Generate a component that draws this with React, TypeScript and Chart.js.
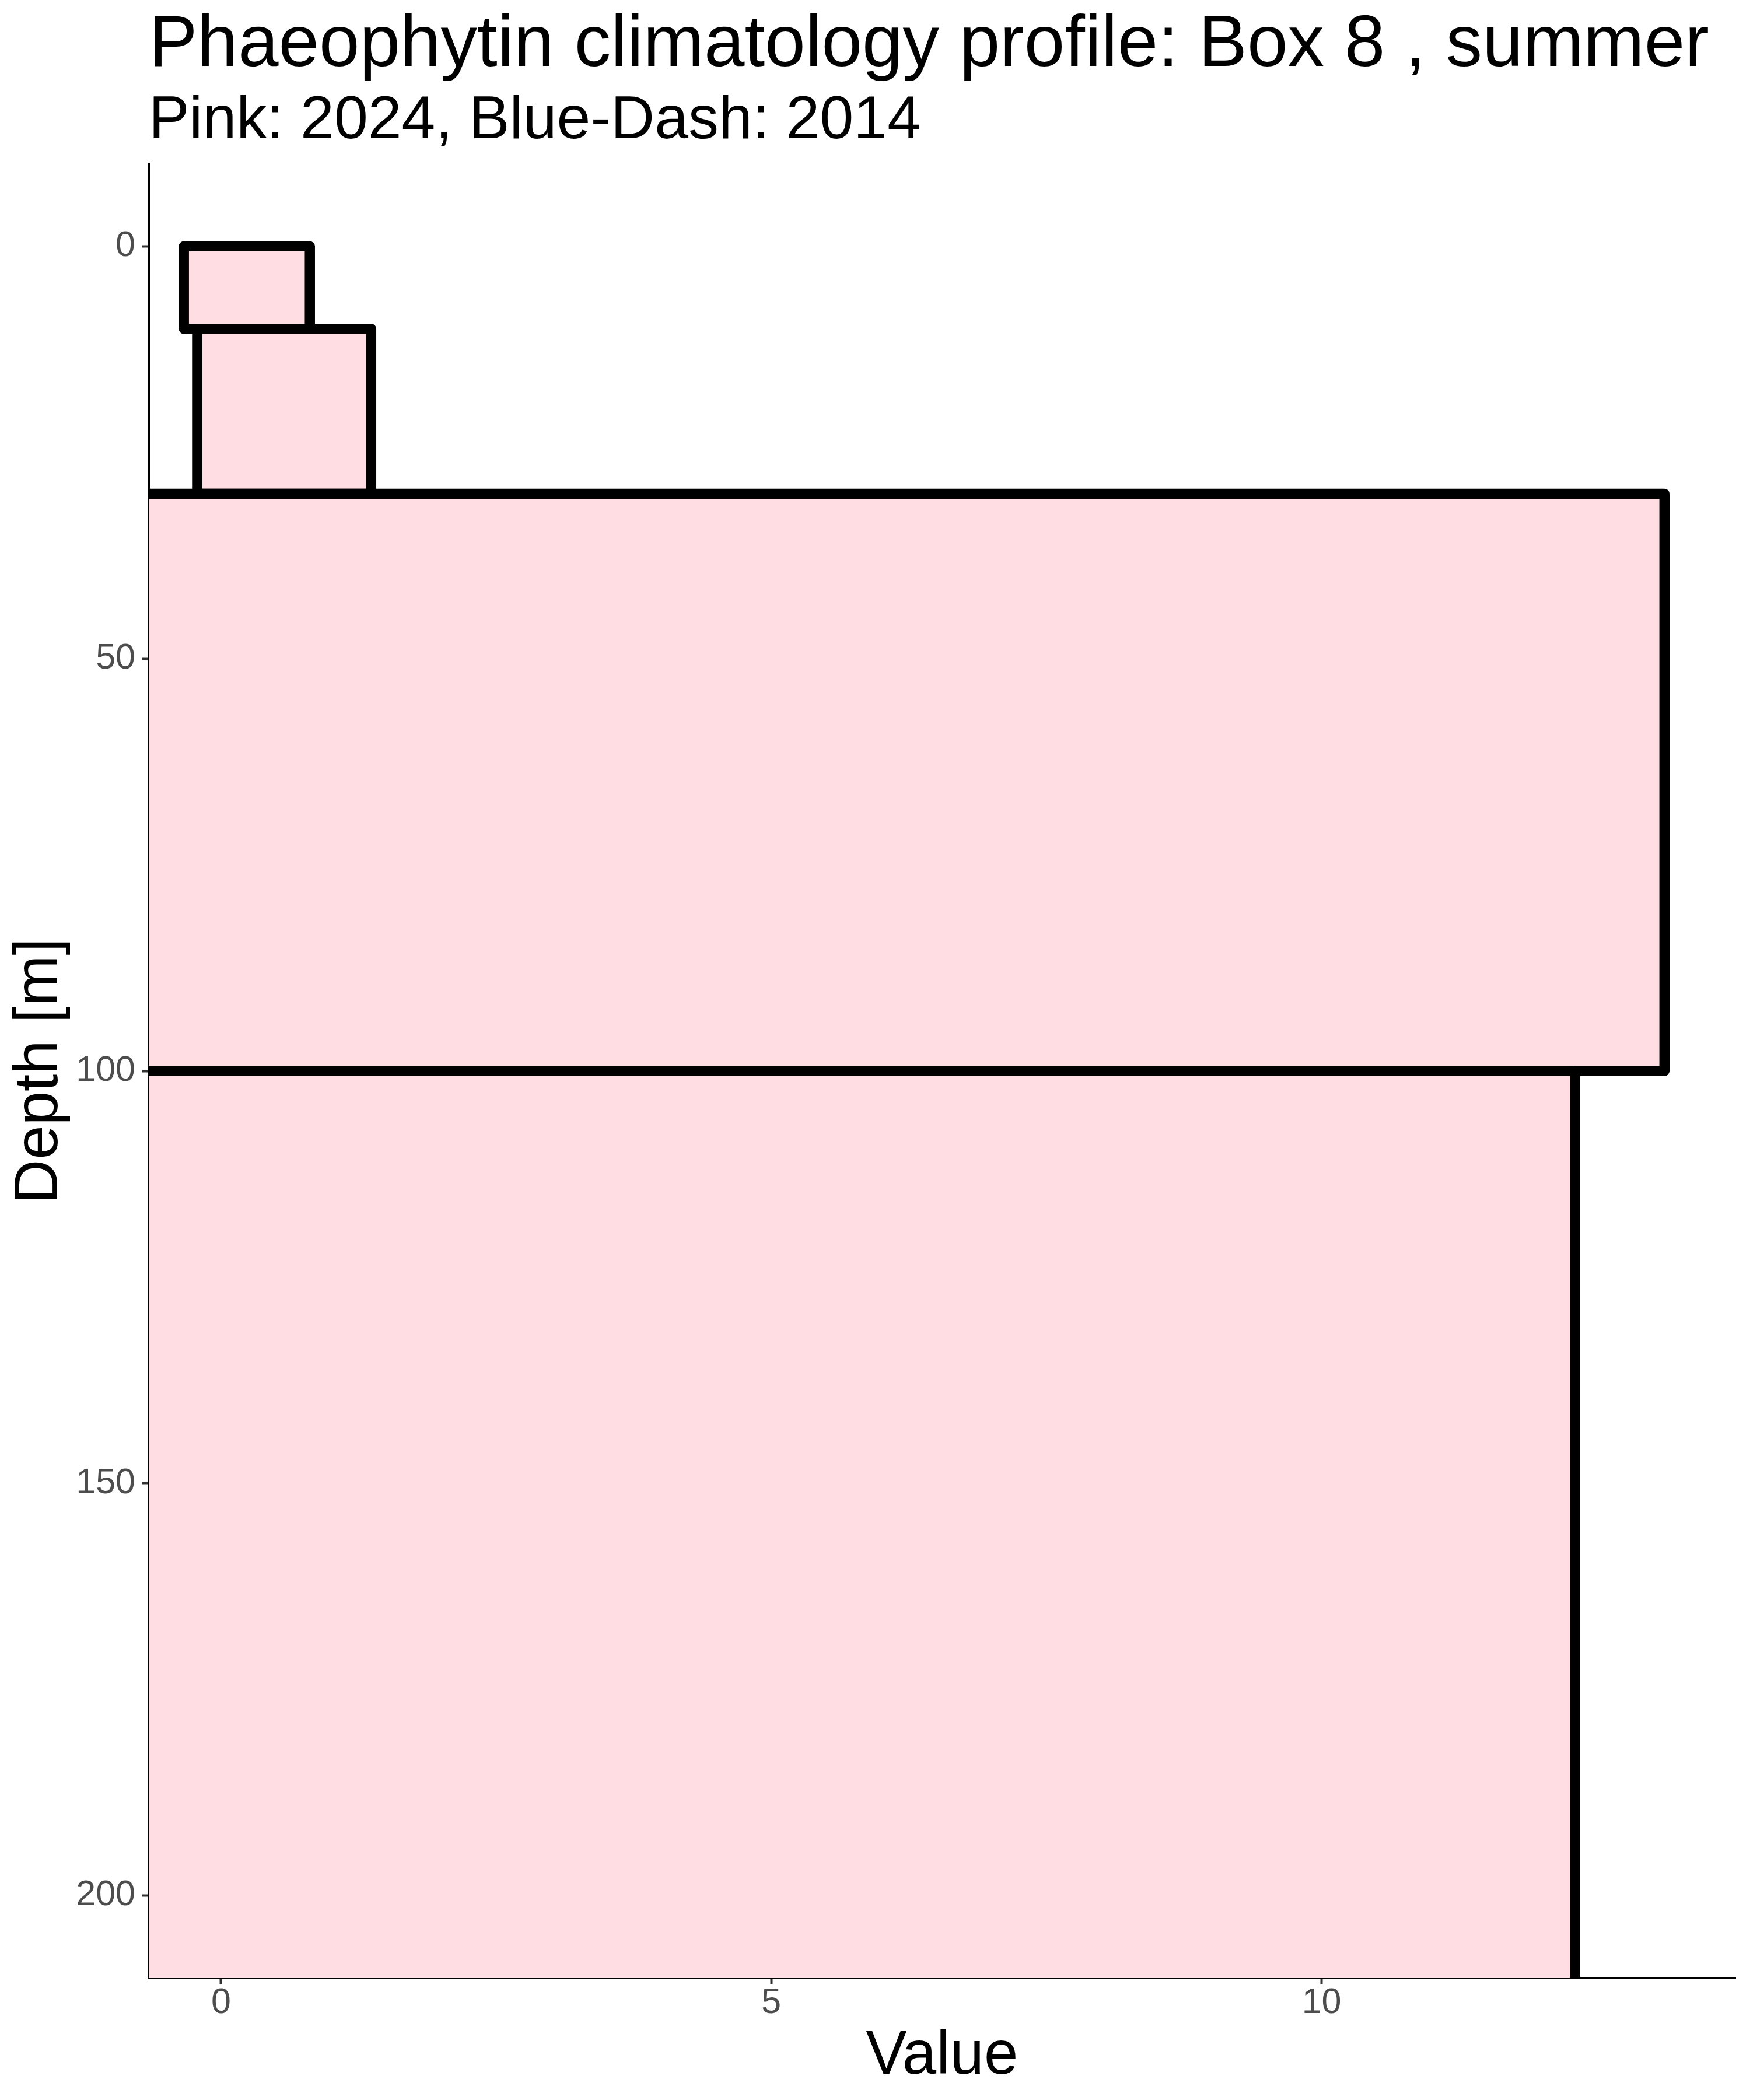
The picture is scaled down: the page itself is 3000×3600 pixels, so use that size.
import React, { useEffect, useRef } from "react";
import { Chart, registerables } from "chart.js";

Chart.register(...registerables);

// ---- Data ----
const layerLabels = ["0-10 m", "10-30 m", "30-100 m", "100+ m"];
const depthTop = [0, 10, 30, 100];
const depthBottom = [10, 30, 100, 230]; // last layer runs past the panel bottom
const valueLow = [-0.338, -0.217, -1.2, -1.2]; // deep layers run past the panel's left edge
const valueHigh = [0.807, 1.364, 13.115, 12.303];

const xTickValues = [0, 5, 10];
const yTickValues = [0, 50, 100, 150, 200];
const xLimits = [-0.657, 13.76];
const yLimits = [-10, 210];

const TITLE = "Phaeophytin climatology profile: Box 8 , summer";
const SUBTITLE = "Pink: 2024, Blue-Dash: 2014";
const X_TITLE = "Value";
const Y_TITLE = "Depth [m]";

const FONT = '"Liberation Sans", Arial, Helvetica, sans-serif';
const FILL = "#FFDDE3";

const textPlugin = {
  id: "ggText",
  afterDraw(chart: any) {
    const ctx = chart.ctx;
    const a = chart.chartArea;
    ctx.save();
    ctx.fillStyle = "#000000";
    ctx.textBaseline = "alphabetic";
    ctx.textAlign = "left";
    ctx.font = `125px ${FONT}`;
    ctx.fillText(TITLE, a.left, 113);
    ctx.font = `104px ${FONT}`;
    ctx.fillText(SUBTITLE, a.left, 237);
    ctx.font = `105px ${FONT}`;
    ctx.textAlign = "center";
    ctx.fillText(X_TITLE, (a.left + a.right) / 2, 3555);
    ctx.translate(98, (a.top + a.bottom) / 2);
    ctx.rotate(-Math.PI / 2);
    ctx.fillText(Y_TITLE, 0, 0);
    ctx.restore();
  },
};

export default function App() {
  const canvasRef = useRef<HTMLCanvasElement | null>(null);

  useEffect(() => {
    const canvas = canvasRef.current;
    if (!canvas) return;
    const n = layerLabels.length;
    const datasets = layerLabels.map((label, i) => ({
      label,
      data: [
        { x: valueLow[i], y: depthTop[i] },
        { x: valueHigh[i], y: depthTop[i] },
        { x: valueHigh[i], y: depthBottom[i] },
        { x: valueLow[i], y: depthBottom[i] },
        { x: valueLow[i], y: depthTop[i] },
      ],
      showLine: true,
      fill: "shape",
      backgroundColor: FILL,
      borderColor: "#000000",
      borderWidth: 17.5,
      borderJoinStyle: "round",
      borderCapStyle: "round",
      tension: 0,
      pointRadius: 0,
      pointHoverRadius: 0,
      clip: 0,
      order: n - i,
    }));

    const tickFont = { family: FONT, size: 61, lineHeight: 1.06 };

    const chart = new Chart(canvas, {
      type: "scatter",
      data: { datasets: datasets as any },
      plugins: [textPlugin],
      options: {
        responsive: false,
        animation: false,
        devicePixelRatio: 1,
        events: [],
        layout: { padding: { left: 0, right: 25, top: 281, bottom: 0 } },
        plugins: {
          legend: { display: false },
          tooltip: { enabled: false },
          title: { display: false },
        },
        scales: {
          x: {
            type: "linear",
            position: "bottom",
            min: xLimits[0],
            max: xLimits[1],
            z: 1,
            afterBuildTicks: (scale: any) => {
              scale.ticks = xTickValues.map((v) => ({ value: v }));
            },
            afterFit: (scale: any) => {
              scale.height = 209;
            },
            ticks: {
              color: "#4D4D4D",
              font: tickFont,
              padding: 0,
              maxRotation: 0,
              autoSkip: false,
              callback: (v: any) => String(v),
            },
            grid: {
              display: true,
              drawOnChartArea: false,
              drawTicks: true,
              tickLength: 11,
              tickColor: "#333333",
              tickWidth: 4,
            },
            border: { display: true, color: "#000000", width: 4 },
          },
          y: {
            type: "linear",
            position: "left",
            reverse: true,
            min: yLimits[0],
            max: yLimits[1],
            z: 1,
            afterBuildTicks: (scale: any) => {
              scale.ticks = yTickValues.map((v) => ({ value: v }));
            },
            afterFit: (scale: any) => {
              scale.width = 255;
            },
            ticks: {
              color: "#4D4D4D",
              font: tickFont,
              padding: 12,
              autoSkip: false,
              callback: (v: any) => String(v),
            },
            grid: {
              display: true,
              drawOnChartArea: false,
              drawTicks: true,
              tickLength: 11,
              tickColor: "#333333",
              tickWidth: 4,
            },
            border: { display: true, color: "#000000", width: 4 },
          },
        },
      } as any,
    });

    return () => {
      chart.destroy();
    };
  }, []);

  return (
    <div style={{ position: "absolute", left: 0, top: 0, width: 3000, height: 3600, background: "#ffffff" }}>
      <canvas ref={canvasRef} width={3000} height={3600} style={{ width: 3000, height: 3600, display: "block" }} />
    </div>
  );
}
